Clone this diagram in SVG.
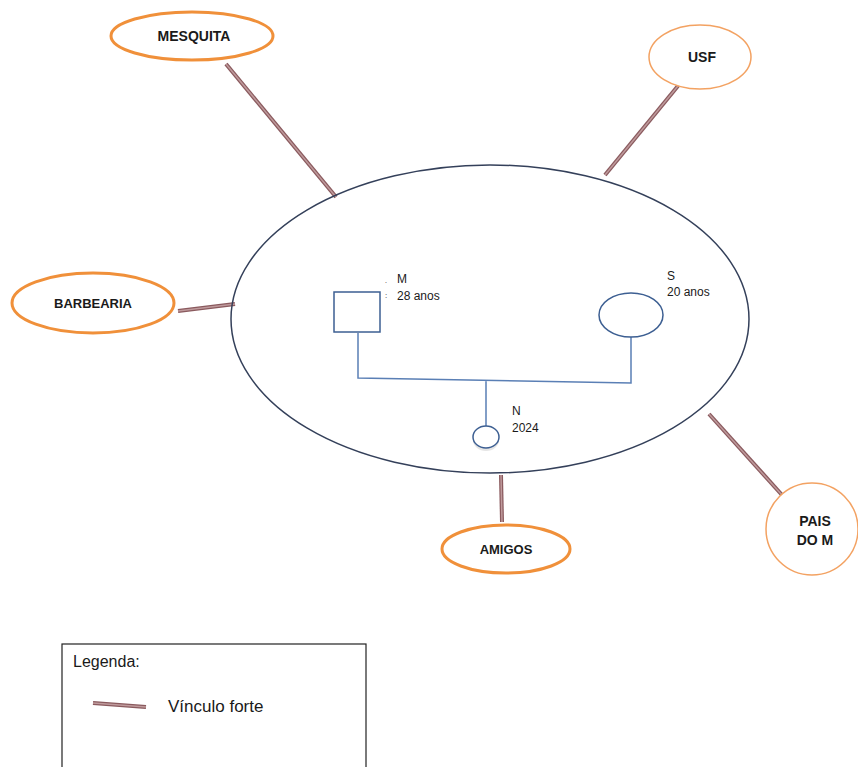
<svg xmlns="http://www.w3.org/2000/svg" width="858" height="767" viewBox="0 0 858 767">
<style>
.thick{fill:#fff;stroke:#f0903a;stroke-width:3}
.thin{fill:#fff;stroke:#f3a262;stroke-width:1.5}
.lbl{font-family:"Liberation Sans",Arial,sans-serif;font-weight:bold;font-size:14px;fill:#1a1a1a;text-anchor:middle}
.fam{font-family:"Liberation Sans",Arial,sans-serif;font-size:12px;fill:#1a1a1a}
.kin{fill:#fff;stroke:#3d5f92;stroke-width:1.5}
.kl{fill:none;stroke:#5a7fb5;stroke-width:1.5}
.bo{stroke:#8a5a5e;stroke-width:4;stroke-linecap:butt}
.bi{stroke:#bf9a9c;stroke-width:1.5;stroke-linecap:butt}
</style>
<rect width="858" height="767" fill="#fff"/>
<g id="connectors">
<line class="bo" x1="226" y1="64" x2="336" y2="197"/><line class="bi" x1="226" y1="64" x2="336" y2="197"/>
<line class="bo" x1="682" y1="81" x2="605" y2="175"/><line class="bi" x1="682" y1="81" x2="605" y2="175"/>
<line class="bo" x1="178" y1="311" x2="235" y2="304"/><line class="bi" x1="178" y1="311" x2="235" y2="304"/>
<line class="bo" x1="501" y1="475" x2="502" y2="522"/><line class="bi" x1="501" y1="475" x2="502" y2="522"/>
<line class="bo" x1="709" y1="414" x2="782" y2="495"/><line class="bi" x1="709" y1="414" x2="782" y2="495"/>
</g>
<g id="household">
<ellipse cx="490" cy="319" rx="259" ry="154" fill="none" stroke="#34405a" stroke-width="1.5"/>
</g>
<g id="mesquita"><ellipse class="thick" cx="192" cy="36" rx="81" ry="24"/><text class="lbl" x="194" y="41">MESQUITA</text></g>
<g id="usf"><ellipse class="thin" cx="700" cy="57" rx="51" ry="32"/><text class="lbl" x="702" y="62">USF</text></g>
<g id="barbearia"><ellipse class="thick" cx="93" cy="303" rx="81" ry="30"/><text class="lbl" x="93" y="308" style="font-size:13px">BARBEARIA</text></g>
<g id="amigos"><ellipse class="thick" cx="506" cy="549" rx="64" ry="24"/><text class="lbl" x="506" y="554" style="font-size:13px">AMIGOS</text></g>
<g id="pais"><circle class="thin" cx="812" cy="529" r="46"/><text class="lbl" x="815" y="526">PAIS</text><text class="lbl" x="815" y="545">DO M</text></g>
<g id="genogram">
<path class="kl" d="M358,333 V378 L631,383 V337 M486,380 V426"/>
<rect id="m" class="kin" x="334" y="292" width="46" height="40"/>
<text class="fam" x="385" y="283" style="font-size:7px">.</text>
<text class="fam" x="385" y="298" style="font-size:8px">:</text>
<text class="fam" x="397" y="283">M</text>
<text class="fam" x="397" y="300">28 anos</text>
<ellipse id="s" class="kin" cx="631" cy="315" rx="32" ry="22"/>
<text class="fam" x="667" y="280">S</text>
<text class="fam" x="667" y="296">20 anos</text>
<ellipse cx="486" cy="440" rx="13" ry="11" fill="#ccc" opacity="0.5"/>
<ellipse id="n" class="kin" cx="486" cy="437" rx="13" ry="11" stroke="#5a7fb5"/>
<text class="fam" x="512" y="415">N</text>
<text class="fam" x="512" y="432">2024</text>
</g>
<g id="legend">
<rect x="62" y="644" width="304" height="130" fill="#fff" stroke="#222" stroke-width="1.2"/>
<text x="73" y="667" font-family="'Liberation Sans',Arial,sans-serif" font-size="16" fill="#1a1a1a">Legenda:</text>
<line class="bo" x1="93" y1="703" x2="146" y2="707"/><line class="bi" x1="93" y1="703" x2="146" y2="707"/>
<text x="168" y="712" font-family="'Liberation Sans',Arial,sans-serif" font-size="17" fill="#1a1a1a">Vínculo forte</text>
</g>
</svg>
